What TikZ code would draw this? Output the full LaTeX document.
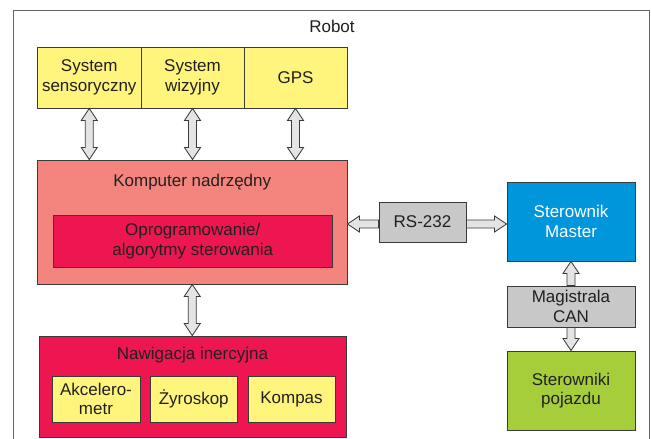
\documentclass[tikz,border=0pt]{standalone}
\usepackage{fontspec}
\setmainfont{Liberation Sans}
\usetikzlibrary{calc}
\definecolor{ylw}{HTML}{FFF47C}
\definecolor{salmon}{HTML}{F3857E}
\definecolor{crimson}{HTML}{ED1651}
\definecolor{blu}{HTML}{0096DB}
\definecolor{gry}{HTML}{C8C8C8}
\definecolor{grn}{HTML}{A5CE3A}
\definecolor{ink}{HTML}{231F20}
\definecolor{edge}{HTML}{3A3A3A}
\definecolor{arrfill}{HTML}{E4E4E4}
\tikzset{
  box/.style={draw=edge, line width=0.9pt, minimum width=#1, inner sep=0pt, align=center, text=ink,
    font=\fontsize{17}{19.5}\selectfont},
  lbl/.style={inner sep=0pt, text=ink, font=\fontsize{17}{19.5}\selectfont},
  blockarr/.style={draw=edge, fill=arrfill, line width=0.8pt, line join=miter}
}
% double vertical arrow: #1 top, #2 bottom
\newcommand\vdbl[2]{\draw[blockarr] let \p1=(#1), \p2=(#2) in
  (\x1,\y1) -- (\x1+8pt,\y1-12pt) -- (\x1+4pt,\y1-12pt) -- (\x1+4pt,\y2+12pt) -- (\x1+8pt,\y2+12pt) -- (\x1,\y2)
  -- (\x1-8pt,\y2+12pt) -- (\x1-4pt,\y2+12pt) -- (\x1-4pt,\y1-12pt) -- (\x1-8pt,\y1-12pt) -- cycle;}
% single arrow up: tip #1 (top), tail #2 (bottom)
\newcommand\vup[2]{\draw[blockarr] let \p1=(#1), \p2=(#2) in
  (\x1,\y1) -- (\x1+8pt,\y1-12pt) -- (\x1+4pt,\y1-12pt) -- (\x1+4pt,\y2) -- (\x1-4pt,\y2) -- (\x1-4pt,\y1-12pt) -- (\x1-8pt,\y1-12pt) -- cycle;}
% single arrow down: tail #1 (top), tip #2 (bottom)
\newcommand\vdown[2]{\draw[blockarr] let \p1=(#1), \p2=(#2) in
  (\x1-4pt,\y1) -- (\x1+4pt,\y1) -- (\x1+4pt,\y2+12pt) -- (\x1+8pt,\y2+12pt) -- (\x1,\y2) -- (\x1-8pt,\y2+12pt) -- (\x1-4pt,\y2+12pt) -- cycle;}
% single arrow left: tip #1 (left), tail #2 (right)
\newcommand\hleft[2]{\draw[blockarr] let \p1=(#1), \p2=(#2) in
  (\x1,\y1) -- (\x1+12pt,\y1+8pt) -- (\x1+12pt,\y1+4pt) -- (\x2,\y1+4pt) -- (\x2,\y1-4pt) -- (\x1+12pt,\y1-4pt) -- (\x1+12pt,\y1-8pt) -- cycle;}
% single arrow right: tail #1 (left), tip #2 (right)
\newcommand\hright[2]{\draw[blockarr] let \p1=(#1), \p2=(#2) in
  (\x2,\y1) -- (\x2-12pt,\y1+8pt) -- (\x2-12pt,\y1+4pt) -- (\x1,\y1+4pt) -- (\x1,\y1-4pt) -- (\x2-12pt,\y1-4pt) -- (\x2-12pt,\y1-8pt) -- cycle;}
\begin{document}
\begin{tikzpicture}[x=1pt,y=-1pt]
\useasboundingbox (0,0) rectangle (651,439);
\fill[white] (0,0) rectangle (651,439);
% outer frame
\draw[draw=gray!80!black, line width=1pt] (13.5,439) -- (13.5,10) -- (649,10) -- (649,439);
\node[lbl] (robot) at (332,26) {Robot};

% top sensors
\node[box=103.5pt, minimum height=61pt, fill=ylw] (sens) at (89.25,77.5) {System\\sensoryczny};
\node[box=103pt, minimum height=61pt, fill=ylw] (wiz) at (192.5,77.5) {System\\wizyjny};
\node[box=103pt, minimum height=61pt, fill=ylw] (gps) at (295.5,77.5) {GPS};

% main computer
\node[box=309.5pt, minimum height=124pt, fill=salmon] (komp) at (192.25,222) {};
\node[lbl] (kompl) at (192.25,182) {Komputer nadrzędny};
\node[box=279.5pt, minimum height=52pt, fill=crimson] (soft) at (192.75,241) {Oprogramowanie/\\algorytmy sterowania};

% RS-232 and master
\node[box=87pt, minimum height=40pt, fill=gry] (rs) at (422.5,222) {RS-232};
\node[box=128pt, minimum height=79pt, fill=blu, text=white] (master) at (571,221.5) {Sterownik\\Master};
\node[box=128pt, minimum height=41pt, fill=gry] (can) at (571,306.5) {Magistrala\\CAN};
\node[box=128pt, minimum height=79pt, fill=grn] (veh) at (571,390.5) {Sterowniki\\pojazdu};

% inertial navigation
\node[box=307pt, minimum height=101pt, fill=crimson] (nav) at (192.5,386.5) {};
\node[lbl] (navl) at (192.5,355) {Nawigacja inercyjna};
\node[box=88pt, minimum height=46pt, fill=ylw] (acc) at (96,399) {Akcelero-\\metr};
\node[box=87.5pt, minimum height=46pt, fill=ylw] (gyro) at (193.75,399) {Żyroskop};
\node[box=87pt, minimum height=46pt, fill=ylw] (comp) at (291.5,399) {Kompas};

% connectors
\vdbl{sens.south}{sens.south |- komp.north}
\vdbl{wiz.south}{wiz.south |- komp.north}
\vdbl{gps.south}{gps.south |- komp.north}
\vdbl{komp.south}{komp.south |- nav.north}
\hleft{[yshift=-2pt]rs.west -| komp.east}{[yshift=-2pt]rs.west}
\hright{[yshift=-2pt]rs.east}{[yshift=-2pt]rs.east -| master.west}
\vup{master.south}{can.north}
\vdown{can.south}{veh.north}
\end{tikzpicture}
\end{document}
